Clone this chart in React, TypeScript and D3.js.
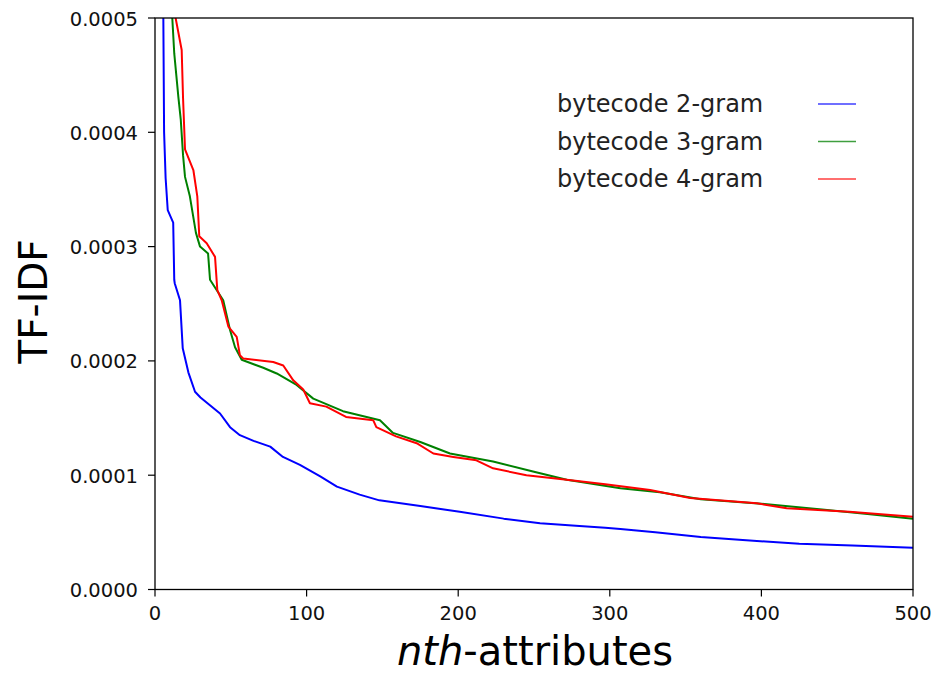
import React from "react";
import * as d3 from "d3";

const xTicks = [0, 100, 200, 300, 400, 500];
const yTicks = [0, 0.0001, 0.0002, 0.0003, 0.0004, 0.0005];

const series2N = [2, 5, 5.5, 6, 7, 8.4, 12, 12.7, 13, 16.5, 18.3, 22, 26.4, 30, 42.9, 49.5, 56, 65, 76, 84.4, 95.6, 109, 120, 135, 148, 175, 201, 230, 254, 280, 297, 307, 330, 360, 390, 425, 460, 500];
const series2V = [8.0, 5.3, 5.0, 4.0, 3.6, 3.32, 3.21, 2.71, 2.68, 2.53, 2.11, 1.9, 1.73, 1.68, 1.54, 1.42, 1.35, 1.3, 1.25, 1.16, 1.09, 0.99, 0.9, 0.83, 0.78, 0.73, 0.68, 0.62, 0.58, 0.555, 0.54, 0.53, 0.5, 0.46, 0.43, 0.4, 0.385, 0.366];

const series3N = [10.5, 11.4, 12.7, 15.4, 17, 18.5, 19.8, 23, 27, 29.7, 35, 36.3, 45, 49.5, 52.8, 57.2, 71.4, 80.3, 93.4, 104.4, 124, 148.4, 157, 175, 194.6, 223, 250, 271.6, 307, 333, 360, 400, 440, 470, 500];
const series3V = [5.3, 5.0, 4.69, 4.31, 4.11, 3.8, 3.61, 3.44, 3.12, 3.0, 2.94, 2.71, 2.53, 2.27, 2.12, 2.01, 1.94, 1.89, 1.79, 1.67, 1.56, 1.48, 1.37, 1.29, 1.19, 1.12, 1.03, 0.96, 0.885, 0.85, 0.79, 0.75, 0.7, 0.66, 0.62];

const series4N = [12.5, 13.6, 17.6, 18.5, 19.8, 25.3, 27.9, 29.2, 34.1, 39.6, 41.1, 44, 48.4, 53.9, 56, 58.3, 78, 84.6, 91.2, 97.8, 102.2, 113, 126, 144, 146, 159, 172.6, 183.6, 196.8, 212, 223, 245, 271.6, 297, 326.6, 353, 397, 416.7, 458, 500];
const series4V = [5.3, 5.0, 4.72, 4.3, 3.85, 3.67, 3.44, 3.09, 3.03, 2.91, 2.62, 2.53, 2.3, 2.21, 2.05, 2.02, 1.99, 1.96, 1.83, 1.75, 1.63, 1.6, 1.51, 1.48, 1.42, 1.34, 1.28, 1.19, 1.16, 1.13, 1.06, 1.0, 0.96, 0.92, 0.87, 0.8, 0.754, 0.71, 0.68, 0.637];

const seriesNames = ["bytecode 2-gram", "bytecode 3-gram", "bytecode 4-gram"];
const seriesColors = ["#0000ff", "#008000", "#ff0000"];
const UNIT = 1e-4;

export default function App() {
  React.useEffect(() => {
    document.body.style.margin = "0";
  }, []);
  const W = 933, H = 675;
  const L = 155, R = 913, T = 18, B = 589.5;
  const x = d3.scaleLinear().domain([0, 500]).range([L, R]);
  const y = d3.scaleLinear().domain([0, 0.0005]).range([B, T]);
  const line = d3.line<[number, number]>().x(d => x(d[0])).y(d => y(d[1]));
  const allN = [series2N, series3N, series4N];
  const allV = [series2V, series3V, series4V];
  const font = "DejaVu Sans, sans-serif";
  return (
    <svg width={W} height={H} style={{ display: "block", background: "#fff" }}>
      <defs>
        <clipPath id="plotclip">
          <rect x={L} y={T} width={R - L} height={B - T} />
        </clipPath>
      </defs>
      <g clipPath="url(#plotclip)">
        {allN.map((ns, i) => (
          <path key={i} d={line(ns.map((n, j) => [n, allV[i][j] * UNIT]))!} fill="none" stroke={seriesColors[i]} strokeWidth={2} strokeLinejoin="round" />
        ))}
      </g>
      <rect x={L} y={T} width={R - L} height={B - T} fill="none" stroke="#000" strokeWidth={1.3} />
      {xTicks.map(t => (
        <g key={t}>
          <line x1={x(t)} x2={x(t)} y1={B} y2={B + 7} stroke="#000" strokeWidth={1.2} />
          <text x={x(t)} y={620} textAnchor="middle" fontFamily={font} fontSize={19.5} fill="#111">{t}</text>
        </g>
      ))}
      {yTicks.map(t => (
        <g key={t}>
          <line x1={L - 7} x2={L} y1={y(t)} y2={y(t)} stroke="#000" strokeWidth={1.2} />
          <text x={L - 17} y={y(t) + 7.5} textAnchor="end" fontFamily={font} fontSize={19.5} fill="#111">{t.toFixed(4)}</text>
        </g>
      ))}
      <text transform={`translate(47, 301.5) rotate(-90)`} textAnchor="middle" fontFamily={font} fontSize={39}>TF-IDF</text>
      <text x={(L + R) / 2 + 1} y={665} textAnchor="middle" fontFamily={font} fontSize={40}>
        <tspan fontStyle="italic">nth</tspan>-attributes
      </text>
      {seriesNames.map((s, i) => (
        <g key={s}>
          <text x={557} y={112 + i * 37.5} fontFamily={font} fontSize={24} fill="#222">{s}</text>
          <line x1={818} x2={856} y1={104 + i * 37.5} y2={104 + i * 37.5} stroke={seriesColors[i]} strokeWidth={1.6} opacity={0.75} />
        </g>
      ))}
    </svg>
  );
}
